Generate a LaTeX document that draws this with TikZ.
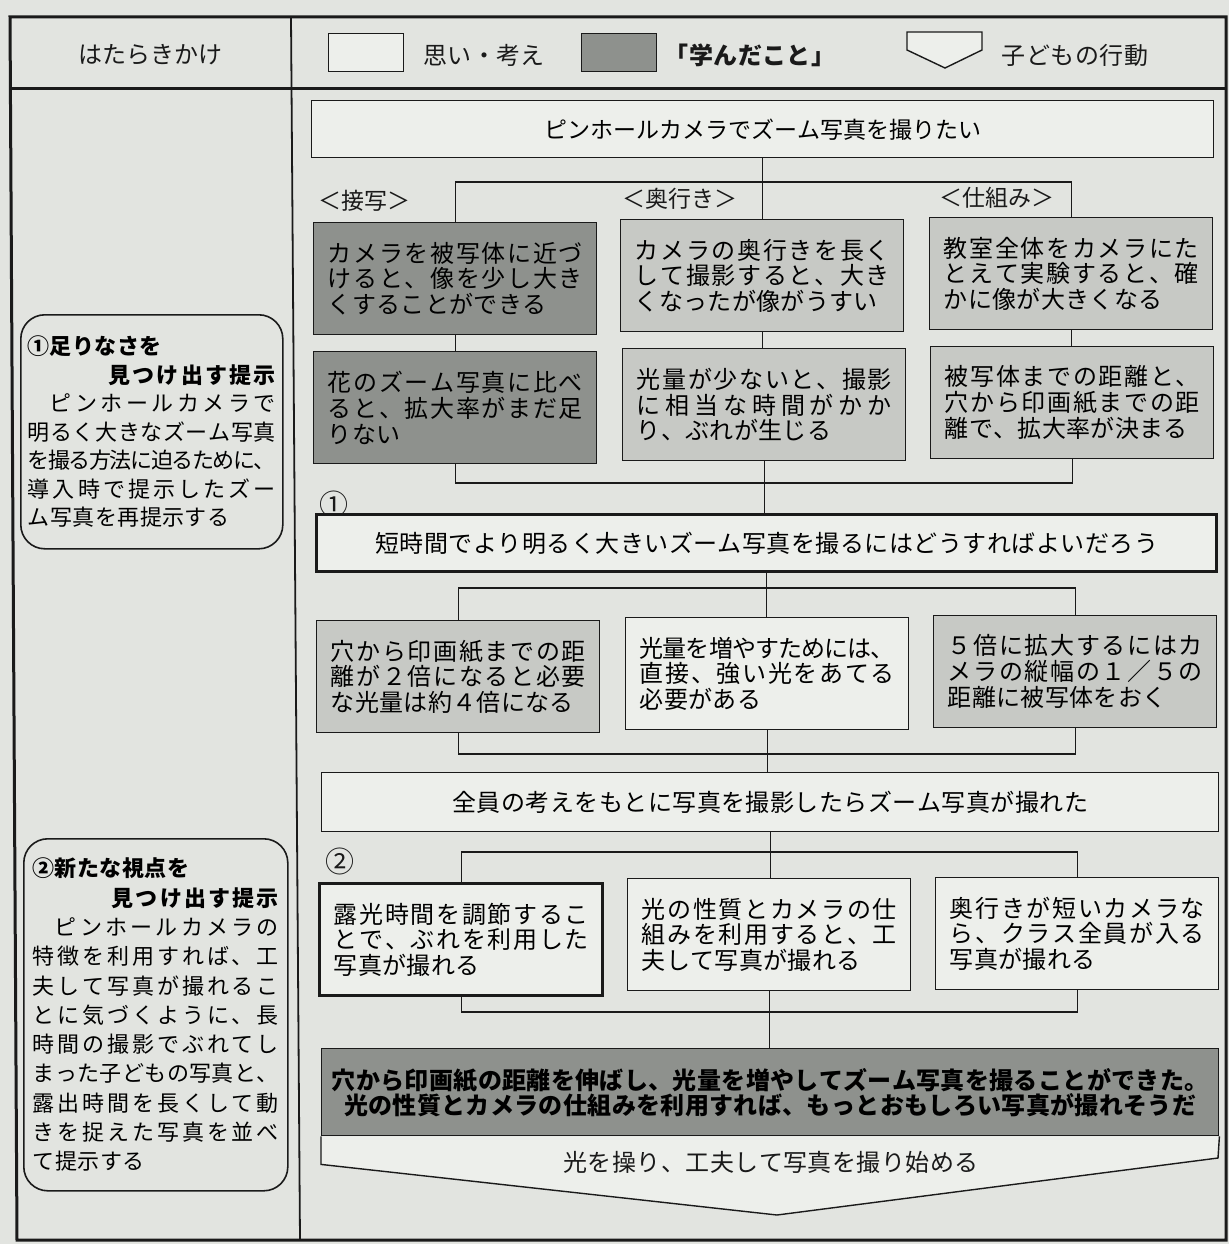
\documentclass[tikz,border=0pt]{standalone}
\usepackage{fontspec}
\setmainfont{Noto Sans CJK JP}
\XeTeXinterchartokenstate=1
\newcount\jpc
\def\jpsetrange#1#2{\jpc=#1\relax\loop\XeTeXcharclass\jpc=8\relax\advance\jpc by 1\relax\ifnum\jpc<#2\relax\repeat}
\jpsetrange{"3000}{"3100}
\jpsetrange{"4E00}{"A000}
\jpsetrange{"FF00}{"FFF0}
\def\jpsp{0em}
\XeTeXinterchartoks 8 8 = {\hskip\jpsp plus .5em minus .2em\relax}
\definecolor{bgc}{HTML}{E2E4E0}
\definecolor{lightc}{HTML}{EDEFEB}
\definecolor{midc}{HTML}{C7C9C5}
\definecolor{darkc}{HTML}{8E918D}
\definecolor{inkc}{HTML}{1A1A1A}
\tikzset{
  fb/.style={draw=inkc, line width=1.4pt, anchor=north west, inner sep=0pt,
    minimum width=283pt, minimum height=112pt,
    font={\fontsize{24pt}{25.8pt}\selectfont\def\jpsp{.015em}}},
  sb/.style={draw=inkc, line width=1.4pt, anchor=north west, inner sep=0pt,
    font={\fontsize{24pt}{26pt}\selectfont\def\jpsp{.02em}}},
  side/.style={draw=inkc, line width=1.6pt, rounded corners=24pt, anchor=north west, inner sep=0pt},
  lab/.style={inner sep=0pt, text=inkc, font={\fontsize{24pt}{26pt}\selectfont\def\jpsp{.02em}}},
  link/.style={draw=inkc, line width=1.4pt},
  heavy/.style={line width=3.4pt},
}
\begin{document}
\begin{tikzpicture}[x=1pt,y=-1pt]
\useasboundingbox (0,0) rectangle (1229,1244);
\fill[bgc] (0,0) rectangle (1229,1244);

% ---------- header ----------
\node[lab, font={\fontsize{24pt}{26pt}\selectfont}] (h0) at (150,55) {はたらきかけ};
\node[draw=inkc, line width=1.4pt, fill=lightc, anchor=north west, minimum width=75pt, minimum height=38pt] (lg1) at (328,33) {};
\node[lab] (lt1) at (484,55) {思い・考え};
\node[draw=inkc, line width=1.4pt, fill=darkc, anchor=north west, minimum width=75pt, minimum height=38pt] (lg2) at (581,33) {};
\node[lab, font={\bfseries\fontsize{24pt}{26pt}\selectfont\def\jpsp{.02em}}] (lt2) at (750,55) {｢学んだこと｣};
\draw[link, fill=lightc] (907,32) -- (982,32) -- (982,50) -- (945,68) -- (907,50) -- cycle;
\node[lab] (lt3) at (1075,55) {子どもの行動};

% ---------- left column ----------
\node[side, minimum width=262pt, minimum height=234pt,
  font={\fontsize{22pt}{28.5pt}\selectfont\def\jpsp{.02em}}] (s1) at (20,314)
  {\parbox{248pt}{{\bfseries ①足りなさを}\par\hfill{\bfseries\def\jpsp{.1em}見つけ出す提示}\par\hspace*{1em}ピンホールカメラで\linebreak
  明るく大きなズーム写真\linebreak
  を撮る方法に迫るために、\linebreak
  導入時で提示したズー\linebreak
  ム写真を再提示する}};
\node[side, minimum width=264pt, minimum height=352pt,
  font={\fontsize{22pt}{29.3pt}\selectfont\def\jpsp{.02em}}] (s2) at (23,838)
  {\parbox{246pt}{{\bfseries ②新たな視点を}\par\hfill{\bfseries\def\jpsp{.1em}見つけ出す提示}\par\hspace*{1em}ピンホールカメラの\linebreak
  特徴を利用すれば、工\linebreak
  夫して写真が撮れるこ\linebreak
  とに気づくように、長\linebreak
  時間の撮影でぶれてし\linebreak
  まった子どもの写真と、\linebreak
  露出時間を長くして動\linebreak
  きを捉えた写真を並べ\linebreak
  て提示する}};

% ---------- flow ----------
\node[sb, fill=lightc, minimum width=902pt, minimum height=57pt,
  font={\fontsize{23pt}{26pt}\selectfont\def\jpsp{0em}}] (a) at (311,100) {ピンホールカメラでズーム写真を撮りたい};

\node[lab, font={\fontsize{23pt}{26pt}\selectfont}] (k1) at (364,201) {＜接写＞};
\node[lab, font={\fontsize{23pt}{26pt}\selectfont}] (k2) at (680,199) {＜奥行き＞};
\node[lab, font={\fontsize{23pt}{26pt}\selectfont}] (k3) at (997,198) {＜仕組み＞};

\node[fb, fill=darkc] (l1) at (313,222) {\parbox{255pt}{カメラを被写体に近づ\linebreak けると、像を少し大き\linebreak くすることができる}};
\node[fb, fill=midc] (m1) at (620,219) {\parbox{255pt}{カメラの奥行きを長く\linebreak して撮影すると、大き\linebreak くなったが像がうすい}};
\node[fb, fill=midc] (r1) at (929,217) {\parbox{255pt}{教室全体をカメラにた\linebreak とえて実験すると、確\linebreak かに像が大きくなる}};

\node[fb, fill=darkc] (l2) at (313,351) {\parbox{255pt}{花のズーム写真に比べ\linebreak ると、拡大率がまだ足\linebreak りない}};
\node[fb, fill=midc] (m2) at (622,348) {\parbox{255pt}{光量が少ないと、撮影\linebreak に相当な時間がかか\linebreak り、ぶれが生じる}};
\node[fb, fill=midc] (r2) at (930,346) {\parbox{255pt}{被写体までの距離と、\linebreak 穴から印画紙までの距\linebreak 離で、拡大率が決まる}};

\node[lab, font={\fontsize{29pt}{30pt}\selectfont}] (n1) at (334,504) {①};
\node[sb, heavy, fill=lightc, minimum width=900pt, minimum height=57pt] (b) at (315,513) {短時間でより明るく大きいズーム写真を撮るにはどうすればよいだろう};

\node[fb, fill=midc] (l3) at (316,620) {\parbox{255pt}{穴から印画紙までの距\linebreak 離が２倍になると必要\linebreak な光量は約４倍になる}};
\node[fb, fill=lightc] (m3) at (625,617) {\parbox{255pt}{光量を増やすためには、\linebreak 直接、強い光をあてる\linebreak 必要がある}};
\node[fb, fill=midc] (r3) at (933,615) {\parbox{255pt}{５倍に拡大するにはカ\linebreak メラの縦幅の１／５の\linebreak 距離に被写体をおく}};

\node[sb, fill=lightc, minimum width=897pt, minimum height=59pt] (c) at (321,772) {全員の考えをもとに写真を撮影したらズーム写真が撮れた};

\node[lab, font={\fontsize{29pt}{30pt}\selectfont}] (n2) at (340,861) {②};
\node[fb, heavy, fill=lightc] (l4) at (318,882) {\parbox{255pt}{露光時間を調節するこ\linebreak とで、ぶれを利用した\linebreak 写真が撮れる}};
\node[fb, fill=lightc] (m4) at (627,878) {\parbox{255pt}{光の性質とカメラの仕\linebreak 組みを利用すると、工\linebreak 夫して写真が撮れる}};
\node[fb, fill=lightc] (r4) at (935,877) {\parbox{255pt}{奥行きが短いカメラな\linebreak ら、クラス全員が入る\linebreak 写真が撮れる}};

\node[draw=inkc, line width=1.4pt, fill=darkc, anchor=north west, inner sep=0pt,
  minimum width=897pt, minimum height=87pt, align=center,
  font={\bfseries\fontsize{24pt}{25pt}\selectfont\def\jpsp{.015em}}] (d) at (321,1048)
  {穴から印画紙の距離を伸ばし、光量を増やしてズーム写真を撮ることができた。\\光の性質とカメラの仕組みを利用すれば、もっとおもしろい写真が撮れそうだ};
\coordinate (etip) at (777,1215);
\draw[link, fill=lightc] (d.south west) -- ++(0,28) -- (etip) -- (1218,1158) -- (d.south east);
\node[lab] (et) at (771,1162) {光を操り、工夫して写真を撮り始める};

% ---------- connectors ----------
\coordinate (j1) at (762,182);
\draw[link] (a.south) -- (a.south |- m1.north);
\draw[link] (l1.north) |- (j1) -| (r1.north);
\draw[link] (l1.south) -- (l1.south |- l2.north);
\draw[link] (m1.south) -- (m1.south |- m2.north);
\draw[link] (r1.south) -- (r1.south |- r2.north);
\coordinate (j2) at (763,483);
\draw[link] (l2.south) |- (j2) -| (r2.south);
\draw[link] (m2.south) -- (m2.south |- b.north);
\coordinate (j3) at (765,588);
\draw[link] (b.south) -- (b.south |- m3.north);
\draw[link] (l3.north) |- (j3) -| (r3.north);
\coordinate (j4) at (766,754);
\draw[link] (l3.south) |- (j4) -| (r3.south);
\draw[link] (m3.south) -- (m3.south |- c.north);
\coordinate (j5) at (768,852);
\draw[link] (c.south) -- (c.south |- m4.north);
\draw[link] (l4.north) |- (j5) -| (r4.north);
\coordinate (j6) at (768,1012);
\draw[link] (l4.south) |- (j6) -| (r4.south);
\draw[link] (m4.south) -- (m4.south |- d.north);

% ---------- frame ----------
\draw[draw=inkc, line width=3pt] (10,17) -- (1226,17) -- (1226,1240) -- (17,1240) -- cycle;
\draw[draw=inkc, line width=3pt] (10,89) -- (1226,89);
\draw[draw=inkc, line width=1.8pt] (291,17) -- (300,1240);
\end{tikzpicture}
\end{document}
